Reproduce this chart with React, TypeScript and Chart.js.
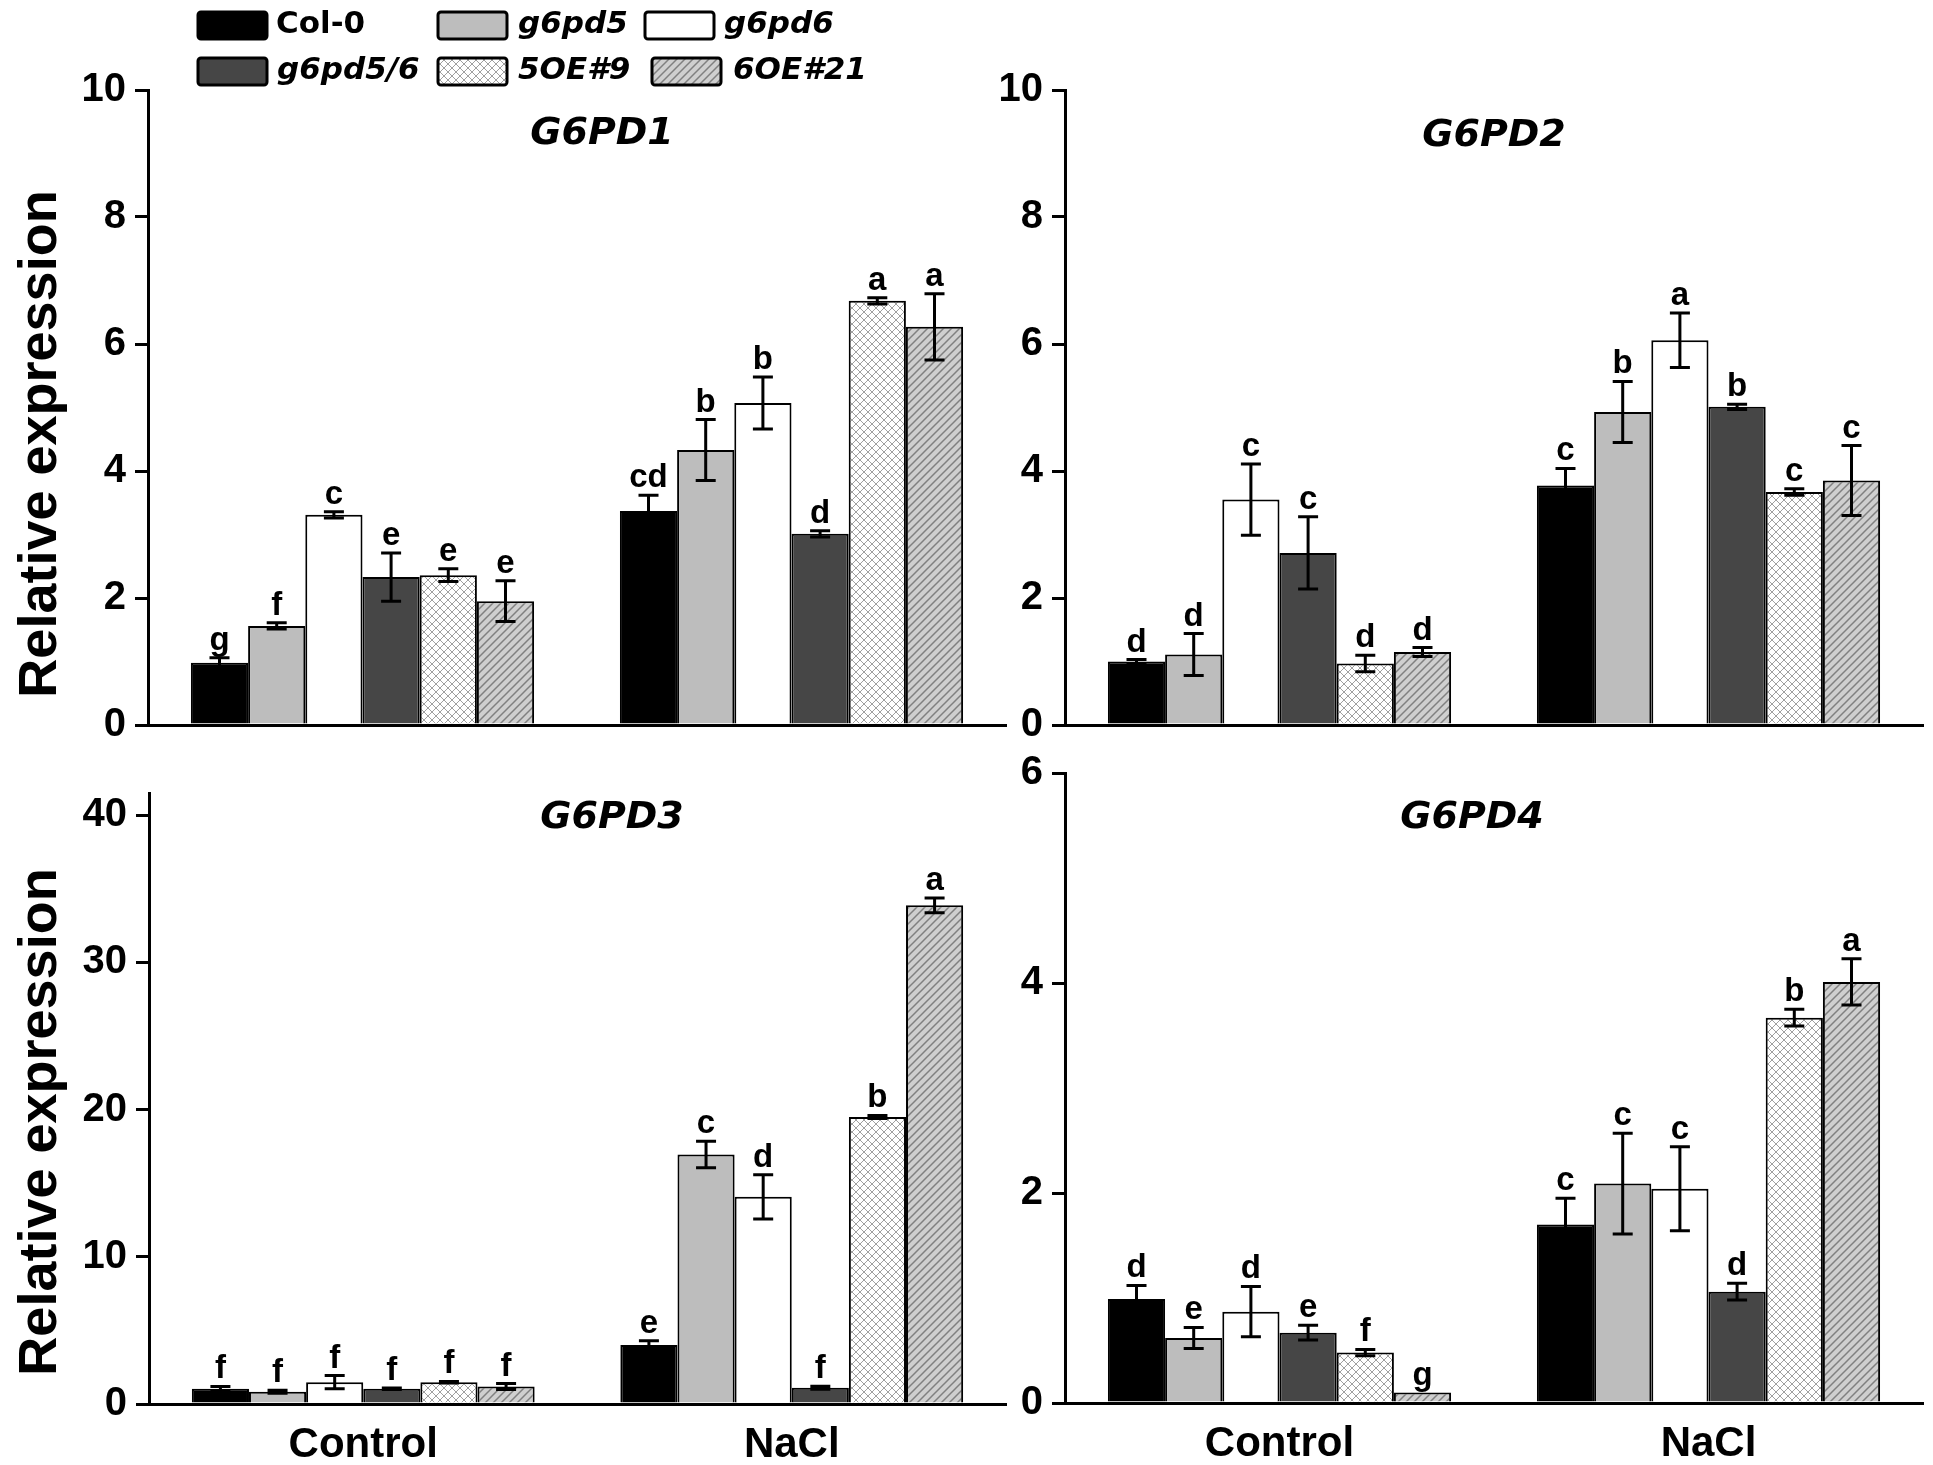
import { useEffect, useRef } from 'react'
import { Chart, registerables } from 'chart.js'
Chart.register(...registerables)

const groups = ['Control', 'NaCl']
const lines = ['Col-0', 'g6pd5', 'g6pd6', 'g6pd5/6', '5OE#9', '6OE#21']
const italicLine = [false, true, true, true, true, true]

// values are [line][Control, NaCl]
const g1Mean = [[0.98, 3.37], [1.56, 4.33], [3.31, 5.07], [2.33, 3.01], [2.36, 6.68], [1.95, 6.27]]
const g1Err = [[0.08, 0.25], [0.05, 0.48], [0.05, 0.41], [0.38, 0.05], [0.1, 0.05], [0.32, 0.52]]
const g1Sig = [['g', 'cd'], ['f', 'b'], ['c', 'b'], ['e', 'd'], ['e', 'a'], ['e', 'a']]

const g2Mean = [[1.0, 3.77], [1.11, 4.93], [3.55, 6.06], [2.71, 5.01], [0.97, 3.67], [1.15, 3.85]]
const g2Err = [[0.03, 0.27], [0.33, 0.48], [0.56, 0.43], [0.57, 0.04], [0.13, 0.05], [0.07, 0.55]]
const g2Sig = [['d', 'c'], ['d', 'b'], ['c', 'a'], ['c', 'b'], ['d', 'c'], ['d', 'c']]

const g3Mean = [[1.04, 4.0], [0.83, 16.95], [1.48, 14.07], [1.04, 1.1], [1.48, 19.5], [1.19, 33.87]]
const g3Err = [[0.15, 0.3], [0.1, 0.9], [0.45, 1.5], [0.05, 0.1], [0.05, 0.1], [0.2, 0.5]]
const g3Sig = [['f', 'e'], ['f', 'c'], ['f', 'd'], ['f', 'f'], ['f', 'b'], ['f', 'a']]

const g4Mean = [[0.99, 1.7], [0.62, 2.09], [0.87, 2.04], [0.67, 1.06], [0.48, 3.67], [0.1, 4.01]]
const g4Err = [[0.13, 0.25], [0.1, 0.48], [0.24, 0.4], [0.07, 0.08], [0.03, 0.08], [0, 0.22]]
const g4Sig = [['d', 'c'], ['e', 'c'], ['d', 'c'], ['e', 'd'], ['f', 'b'], ['g', 'a']]

// legend layout (page px)
const legSwX = [198, 438, 645, 198, 438, 652]
const legSwY = [12, 12, 12, 58, 58, 58]
const legTxX = [276, 518, 724, 277, 518, 733]

const ARIAL = '"Liberation Sans", Arial, sans-serif'
const DEJA = '"DejaVu Sans", Verdana, sans-serif'
const Y_W = 70

interface Panel {
  title: string; mean: number[][]; err: number[][]; sig: string[][]
  max: number; top: number; step: number; yTitle: boolean; xLabels: boolean; legend: boolean
  box: { left: number; top: number; width: number; height: number }
  area: { left: number; top: number; right: number; bottom: number }
  titleAt: [number, number]; yTitleY: number
}

const panels: Panel[] = [
  { title: 'G6PD1', mean: g1Mean, err: g1Err, sig: g1Sig, max: 10, top: 10, step: 2, yTitle: true, xLabels: false, legend: true,
    box: { left: 0, top: 0, width: 1012, height: 770 }, area: { left: 148, top: 90, right: 1006, bottom: 725 }, titleAt: [602, 134], yTitleY: 444 },
  { title: 'G6PD2', mean: g2Mean, err: g2Err, sig: g2Sig, max: 10, top: 10, step: 2, yTitle: false, xLabels: false, legend: false,
    box: { left: 980, top: 0, width: 953, height: 770 }, area: { left: 1065, top: 90, right: 1923, bottom: 725 }, titleAt: [1494, 136], yTitleY: 0 },
  { title: 'G6PD3', mean: g3Mean, err: g3Err, sig: g3Sig, max: 41.5, top: 40, step: 10, yTitle: true, xLabels: true, legend: false,
    box: { left: 0, top: 760, width: 1012, height: 705 }, area: { left: 149, top: 777, right: 1006, bottom: 1404 }, titleAt: [612, 818], yTitleY: 1122 },
  { title: 'G6PD4', mean: g4Mean, err: g4Err, sig: g4Sig, max: 6, top: 6, step: 2, yTitle: false, xLabels: true, legend: false,
    box: { left: 980, top: 740, width: 953, height: 725 }, area: { left: 1065, top: 766, right: 1923, bottom: 1403 }, titleAt: [1472, 818], yTitleY: 0 },
]

function makeFills(): (string | CanvasPattern)[] {
  const tile = (draw: (c: CanvasRenderingContext2D) => void) => {
    const cv = document.createElement('canvas')
    cv.width = 8; cv.height = 8
    const c = cv.getContext('2d')!
    draw(c)
    return c.createPattern(cv, 'repeat')!
  }
  const mesh = tile(c => {
    c.fillStyle = '#ffffff'; c.fillRect(0, 0, 8, 8)
    c.strokeStyle = '#a0a0a0'; c.lineWidth = 1
    c.beginPath(); c.moveTo(0, 0); c.lineTo(8, 8); c.moveTo(8, 0); c.lineTo(0, 8); c.stroke()
  })
  const hatch = tile(c => {
    c.fillStyle = '#cfcfcf'; c.fillRect(0, 0, 8, 8)
    c.strokeStyle = '#808080'; c.lineWidth = 1.5
    c.beginPath(); c.moveTo(0, 8); c.lineTo(8, 0); c.moveTo(-1, 1); c.lineTo(1, -1); c.moveTo(7, 9); c.lineTo(9, 7); c.stroke()
  })
  return ['#000000', '#bdbdbd', '#ffffff', '#464646', mesh, hatch]
}

function PanelChart({ p }: { p: Panel }) {
  const ref = useRef<HTMLCanvasElement>(null)

  useEffect(() => {
    if (!ref.current) return
    const fills = makeFills()
    const xH = p.xLabels ? 55 : 0
    const pad = {
      left: p.area.left - p.box.left - Y_W,
      top: p.area.top - p.box.top,
      right: p.box.left + p.box.width - p.area.right,
      bottom: p.box.top + p.box.height - p.area.bottom - xH,
    }

    const decor = {
      id: 'decor',
      afterDatasetsDraw(chart: any) {
        const ctx: CanvasRenderingContext2D = chart.ctx
        const y = chart.scales.y
        ctx.save()
        chart.data.datasets.forEach((_: any, i: number) => {
          chart.getDatasetMeta(i).data.forEach((bar: any, j: number) => {
            const v = p.mean[i][j], e = p.err[i][j]
            const top = y.getPixelForValue(v + e)
            const bot = y.getPixelForValue(Math.max(0, v - e))
            if (e > 0) {
              ctx.strokeStyle = '#000'; ctx.lineWidth = 3
              ctx.beginPath()
              ctx.moveTo(bar.x, top); ctx.lineTo(bar.x, bot)
              ctx.moveTo(bar.x - 10, top); ctx.lineTo(bar.x + 10, top)
              ctx.moveTo(bar.x - 10, bot); ctx.lineTo(bar.x + 10, bot)
              ctx.stroke()
            }
            ctx.fillStyle = '#000'
            ctx.font = `bold 33px ${ARIAL}`
            ctx.textAlign = 'center'; ctx.textBaseline = 'alphabetic'
            ctx.fillText(p.sig[i][j], bar.x, Math.min(top, y.getPixelForValue(v)) - 8)
          })
        })

        ctx.fillStyle = '#000'
        ctx.textAlign = 'center'; ctx.textBaseline = 'middle'
        ctx.font = `italic bold 38px ${DEJA}`
        ctx.fillText(p.title, p.titleAt[0] - p.box.left, p.titleAt[1] - p.box.top)

        if (p.legend) {
          lines.forEach((name, i) => {
            const sx = legSwX[i] - p.box.left, sy = legSwY[i] - p.box.top
            ctx.fillStyle = fills[i] as any
            ctx.beginPath(); ctx.roundRect(sx, sy, 69, 27, 3); ctx.fill()
            ctx.strokeStyle = '#000'; ctx.lineWidth = 3; ctx.stroke()
            ctx.fillStyle = '#000'
            ctx.textAlign = 'left'; ctx.textBaseline = 'middle'
            ctx.font = `${italicLine[i] ? 'italic ' : ''}bold 31px ${DEJA}`
            ctx.fillText(name, legTxX[i] - p.box.left, sy + 13)
          })
        }

        if (p.yTitle) {
          ctx.translate(41 - p.box.left, p.yTitleY - p.box.top)
          ctx.rotate(-Math.PI / 2)
          ctx.textAlign = 'center'; ctx.textBaseline = 'middle'
          ctx.font = `bold 54px ${ARIAL}`
          ctx.fillText('Relative expression', 0, 0)
        }
        ctx.restore()
      },
    }

    const chart = new Chart(ref.current, {
      type: 'bar',
      data: {
        labels: groups,
        datasets: lines.map((name, i) => ({
          label: name, data: p.mean[i].map(v => v),
          backgroundColor: fills[i] as any, borderColor: '#000', borderWidth: 2,
          categoryPercentage: 0.8, barPercentage: 1,
        })),
      },
      options: {
        responsive: false, animation: false, devicePixelRatio: 1,
        layout: { padding: pad },
        plugins: { legend: { display: false }, tooltip: { enabled: false } },
        scales: {
          x: {
            offset: true,
            grid: { display: false },
            border: { display: true, color: '#000', width: 3 },
            ticks: { display: p.xLabels, color: '#000', padding: 8, font: { family: ARIAL, size: 42, weight: 'bold' } },
            afterFit: (s: any) => { s.height = xH },
          },
          y: {
            min: 0, max: p.max,
            ticks: { stepSize: p.step, color: '#000', padding: 9, font: { family: ARIAL, size: 40, weight: 'bold' } },
            grid: { drawOnChartArea: false, drawTicks: true, tickLength: 13, color: '#000', lineWidth: 3 },
            border: { display: true, color: '#000', width: 3 },
            afterBuildTicks: (s: any) => {
              const t: { value: number }[] = []
              for (let v = 0; v <= p.top + 1e-9; v += p.step) t.push({ value: v })
              s.ticks = t
            },
            afterFit: (s: any) => { s.width = Y_W },
          },
        },
      } as any,
      plugins: [decor],
    })
    return () => chart.destroy()
  }, [p])

  return (
    <canvas ref={ref} width={p.box.width} height={p.box.height}
      style={{ position: 'absolute', left: p.box.left, top: p.box.top, width: p.box.width, height: p.box.height }} />
  )
}

export default function App() {
  return (
    <div style={{ position: 'absolute', left: 0, top: 0, width: 1933, height: 1465, background: '#fff' }}>
      {panels.map(p => <PanelChart key={p.title} p={p} />)}
    </div>
  )
}
